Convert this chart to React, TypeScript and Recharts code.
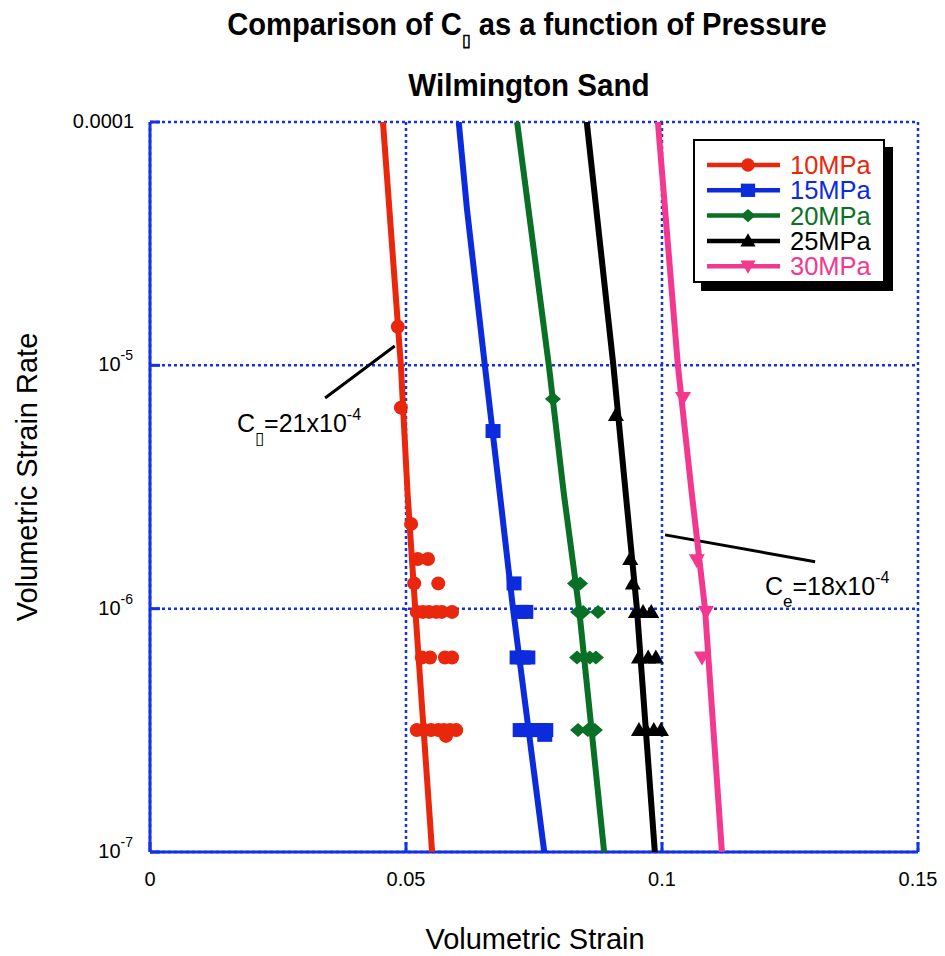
import React from 'react';
import { ScatterChart, Scatter, XAxis, YAxis, CartesianGrid, ReferenceLine, ReferenceDot } from 'recharts';

const FONT = '"Liberation Sans", Arial, Helvetica, sans-serif';
const FRAME = '#1232E4';

const xTicks = [0, 0.05, 0.1, 0.15];
const xTickLabels = ['0', '0.05', '0.1', '0.15'];
const yTicks = [1e-7, 1e-6, 1e-5, 1e-4];

const seriesNames = ['10MPa', '15MPa', '20MPa', '25MPa', '30MPa'];
const seriesColors = ['#E8270C', '#0B2BDD', '#0A7025', '#000000', '#F2388F'];
const seriesMarkers = ['circle', 'square', 'diamond', 'triangle', 'invTriangle'];

// fitted trend lines: [volumetric strain, strain rate]
const fit10 = [[0.0455, 1e-4], [0.0490, 1e-5], [0.0503, 3e-6], [0.0518, 1e-6], [0.0551, 1e-7]];
const fit15 = [[0.0603, 1e-4], [0.0619, 4.4e-5], [0.0654, 1e-5], [0.0683, 3e-6], [0.0709, 1e-6], [0.0770, 1e-7]];
const fit20 = [[0.0717, 1e-4], [0.0779, 1e-5], [0.0808, 3e-6], [0.0838, 1e-6], [0.0887, 1e-7]];
const fit25 = [[0.0853, 1e-4], [0.0905, 1e-5], [0.0929, 3e-6], [0.0951, 1e-6], [0.0986, 1e-7]];
const fit30 = [[0.0992, 1e-4], [0.1031, 1e-5], [0.1058, 3e-6], [0.1084, 1e-6], [0.1117, 1e-7]];

// measured points: [volumetric strain, strain rate]
const pts10 = [
  [0.0484, 1.44e-5], [0.0490, 6.7e-6], [0.0510, 2.23e-6],
  [0.0523, 1.6e-6], [0.0543, 1.6e-6], [0.0516, 1.27e-6], [0.0563, 1.27e-6],
  [0.0521, 9.7e-7], [0.0533, 9.7e-7], [0.0545, 9.7e-7], [0.0559, 9.7e-7], [0.0570, 9.7e-7], [0.0590, 9.7e-7],
  [0.0531, 6.3e-7], [0.0547, 6.3e-7], [0.0576, 6.3e-7], [0.0590, 6.3e-7],
  [0.0521, 3.17e-7], [0.0535, 3.17e-7], [0.0549, 3.17e-7], [0.0563, 3.17e-7], [0.0574, 3.17e-7],
  [0.0586, 3.17e-7], [0.0598, 3.17e-7], [0.0578, 3.0e-7],
];
const pts15 = [
  [0.0670, 5.37e-6], [0.0711, 1.27e-6],
  [0.0723, 9.7e-7], [0.0734, 9.7e-7],
  [0.0717, 6.3e-7], [0.0729, 6.3e-7], [0.0738, 6.3e-7],
  [0.0723, 3.17e-7], [0.0736, 3.17e-7], [0.0750, 3.17e-7], [0.0764, 3.17e-7], [0.0773, 3.17e-7], [0.0771, 3.03e-7],
];
const pts20 = [
  [0.0787, 7.27e-6], [0.0830, 1.27e-6], [0.0840, 1.27e-6],
  [0.0836, 9.7e-7], [0.0846, 9.7e-7], [0.0875, 9.7e-7],
  [0.0834, 6.3e-7], [0.0848, 6.3e-7], [0.0859, 6.3e-7], [0.0871, 6.3e-7],
  [0.0836, 3.17e-7], [0.0855, 3.17e-7], [0.0869, 3.17e-7],
];
const pts25 = [
  [0.0910, 6.25e-6], [0.0938, 1.6e-6], [0.0943, 1.27e-6],
  [0.0949, 9.7e-7], [0.0963, 9.7e-7], [0.0979, 9.7e-7],
  [0.0955, 6.3e-7], [0.0973, 6.3e-7], [0.0988, 6.3e-7],
  [0.0955, 3.17e-7], [0.0969, 3.17e-7], [0.0984, 3.17e-7], [0.0998, 3.17e-7],
];
const pts30 = [[0.1041, 7.34e-6], [0.1068, 1.58e-6], [0.1086, 9.7e-7], [0.1078, 6.3e-7]];

// annotation leader lines and label anchors
const anno1Line = [[0.0478, 1.2e-5], [0.0342, 7.34e-6]];
const anno1Anchor = [0.0170, 5.32e-6];
const anno2Line = [[0.1006, 2.01e-6], [0.1299, 1.56e-6]];
const anno2Anchor = [0.1201, 1.14e-6];

const fits = [fit10, fit15, fit20, fit25, fit30];
const pts = [pts10, pts15, pts20, pts25, pts30];

const toObj = (arr: number[][]) => arr.map(([x, y]) => ({ x, y }));

const Marker = ({ kind, cx, cy, fill, s = 1 }: any) => {
  if (cx == null || cy == null) return <g />;
  switch (kind) {
    case 'circle':
      return <circle cx={cx} cy={cy} r={7 * s} fill={fill} />;
    case 'square':
      return <rect x={cx - 7.5 * s} y={cy - 7 * s} width={15 * s} height={14 * s} fill={fill} />;
    case 'diamond':
      return <polygon points={`${cx},${cy - 7 * s} ${cx + 8 * s},${cy} ${cx},${cy + 7 * s} ${cx - 8 * s},${cy}`} fill={fill} />;
    case 'triangle':
      return <polygon points={`${cx},${cy - 8 * s} ${cx + 8 * s},${cy + 6 * s} ${cx - 8 * s},${cy + 6 * s}`} fill={fill} />;
    default:
      return <polygon points={`${cx - 8 * s},${cy - 6 * s} ${cx + 8 * s},${cy - 6 * s} ${cx},${cy + 8 * s}`} fill={fill} />;
  }
};

const EmptyShape = () => <g />;

const YTick = (props: any) => {
  const { x, y, payload } = props;
  const v = payload.value;
  const exp = Math.round(Math.log10(v));
  return (
    <g>
      <line x1={x} x2={x + 10} y1={y} y2={y} stroke={FRAME} strokeWidth={3} />
      {exp === -4 ? (
        <text x={x - 16} y={y + 6} textAnchor="end" fontSize={20} fontFamily={FONT} fill="#000">0.0001</text>
      ) : (
        <text x={x - 17} y={y + 6} textAnchor="end" fontSize={20} fontFamily={FONT} fill="#000">
          10<tspan dy={-11} fontSize={14}>{`${exp}`}</tspan>
        </text>
      )}
    </g>
  );
};

const YTickRight = (props: any) => {
  const { x, y } = props;
  return <line x1={x} x2={x - 10} y1={y} y2={y} stroke={FRAME} strokeWidth={3} />;
};

const XTick = (props: any) => {
  const { x, y, payload, index } = props;
  const i = xTicks.indexOf(payload.value);
  return (
    <g>
      <line x1={x} x2={x} y1={y} y2={y - 10} stroke={FRAME} strokeWidth={3} />
      <text x={x} y={y + 34} textAnchor="middle" fontSize={20} fontFamily={FONT} fill="#000">
        {xTickLabels[i >= 0 ? i : index]}
      </text>
    </g>
  );
};

const XTickTop = (props: any) => {
  const { x, y } = props;
  return <line x1={x} x2={x} y1={y} y2={y + 10} stroke={FRAME} strokeWidth={3} />;
};

const AnnoText = (sub: string, mant: string) => (props: any) => {
  const { cx, cy } = props;
  if (cx == null || cy == null) return <g />;
  return (
    <text x={cx} y={cy} fontSize={25} fontFamily={FONT} fill="#000">
      C<tspan dy={12} fontSize={17}>{sub}</tspan>
      <tspan dy={-12} fontSize={25}>{mant}</tspan>
      <tspan dy={-12} fontSize={16}>-4</tspan>
    </text>
  );
};

const Legend = () => {
  const rowY = (i: number) => 24 + i * 25.3;
  return (
    <div
      style={{
        position: 'absolute', left: 693, top: 139, width: 188, height: 140,
        border: '2px solid #000', background: '#fff', boxShadow: '8px 8px 0 #000',
      }}
    >
      <svg width={188} height={140} style={{ display: 'block' }}>
        {seriesNames.map((name, i) => (
          <g key={name}>
            <line x1={12} x2={85} y1={rowY(i)} y2={rowY(i)} stroke={seriesColors[i]} strokeWidth={4.5} />
            <Marker kind={seriesMarkers[i]} cx={53} cy={rowY(i)} fill={seriesColors[i]} s={0.95} />
            <text x={95} y={rowY(i) + 9} fontSize={25.5} fontFamily={FONT} fill={seriesColors[i]}>{name}</text>
          </g>
        ))}
      </svg>
    </div>
  );
};

export default function App() {
  return (
    <div style={{ position: 'absolute', left: 0, top: 0, width: 945, height: 956, background: '#fff', fontFamily: FONT }}>
      <ScatterChart width={945} height={956} margin={{ top: 122, right: 27, bottom: 54, left: 70 }}>
        <CartesianGrid stroke={FRAME} strokeWidth={2.5} strokeDasharray="3 3" />
        <XAxis
          dataKey="x" type="number" domain={[0, 0.15]} ticks={xTicks} allowDataOverflow
          height={50} tickSize={0} tickMargin={0} tickLine={false}
          axisLine={{ stroke: FRAME, strokeWidth: 3 }} tick={<XTick />} interval={0}
        />
        <XAxis
          xAxisId="top" orientation="top" dataKey="x" type="number" domain={[0, 0.15]} ticks={xTicks}
          allowDataOverflow height={0} tickSize={0} tickMargin={0} tickLine={false}
          axisLine={{ stroke: FRAME, strokeWidth: 3 }} tick={<XTickTop />} interval={0}
        />
        <YAxis
          dataKey="y" type="number" scale="log" domain={[1e-7, 1e-4]} ticks={yTicks} allowDataOverflow
          width={80} tickSize={0} tickMargin={0} tickLine={false}
          axisLine={{ stroke: FRAME, strokeWidth: 3 }} tick={<YTick />} interval={0}
        />
        <YAxis
          yAxisId="right" orientation="right" dataKey="y" type="number" scale="log" domain={[1e-7, 1e-4]}
          ticks={yTicks} allowDataOverflow width={0} tickSize={0} tickMargin={0} tickLine={false}
          axisLine={{ stroke: FRAME, strokeWidth: 3 }} tick={<YTickRight />} interval={0}
        />
        {fits.map((f, i) => (
          <Scatter
            key={`fit-${i}`} data={toObj(f)} line={{ stroke: seriesColors[i], strokeWidth: 6 }}
            lineType="joint" shape={EmptyShape} fill={seriesColors[i]} isAnimationActive={false} legendType="none"
          />
        ))}
        {pts.map((p, i) => (
          <Scatter
            key={`pts-${i}`} name={seriesNames[i]} data={toObj(p)} fill={seriesColors[i]}
            shape={(props: any) => <Marker kind={seriesMarkers[i]} cx={props.cx} cy={props.cy} fill={seriesColors[i]} />}
            isAnimationActive={false}
          />
        ))}
        <ReferenceLine
          segment={[{ x: anno1Line[0][0], y: anno1Line[0][1] }, { x: anno1Line[1][0], y: anno1Line[1][1] }]}
          stroke="#000" strokeWidth={3}
        />
        <ReferenceLine
          segment={[{ x: anno2Line[0][0], y: anno2Line[0][1] }, { x: anno2Line[1][0], y: anno2Line[1][1] }]}
          stroke="#000" strokeWidth={3}
        />
        <ReferenceDot x={anno1Anchor[0]} y={anno1Anchor[1]} r={0} shape={AnnoText('▯', '=21x10')} />
        <ReferenceDot x={anno2Anchor[0]} y={anno2Anchor[1]} r={0} shape={AnnoText('e', '=18x10')} />
      </ScatterChart>
      <svg width={945} height={956} style={{ position: 'absolute', left: 0, top: 0, pointerEvents: 'none' }}>
        <g transform="translate(527,0) scale(0.94,1)">
          <text x={0} y={35} textAnchor="middle" fontSize={31} fontWeight="bold" fontFamily={FONT} fill="#000">
            Comparison of C<tspan dy={11} fontSize={17}>▯</tspan>
            <tspan dy={-11}> as a function of Pressure</tspan>
          </text>
        </g>
        <g transform="translate(529,0) scale(0.955,1)">
          <text x={0} y={96} textAnchor="middle" fontSize={31} fontWeight="bold" fontFamily={FONT} fill="#000">
            Wilmington Sand
          </text>
        </g>
        <text x={535} y={949} textAnchor="middle" fontSize={29} fontFamily={FONT} fill="#000">Volumetric Strain</text>
        <text transform="translate(37,477) rotate(-90)" textAnchor="middle" fontSize={29} fontFamily={FONT} fill="#000">
          Volumetric Strain Rate
        </text>
      </svg>
      <Legend />
    </div>
  );
}
